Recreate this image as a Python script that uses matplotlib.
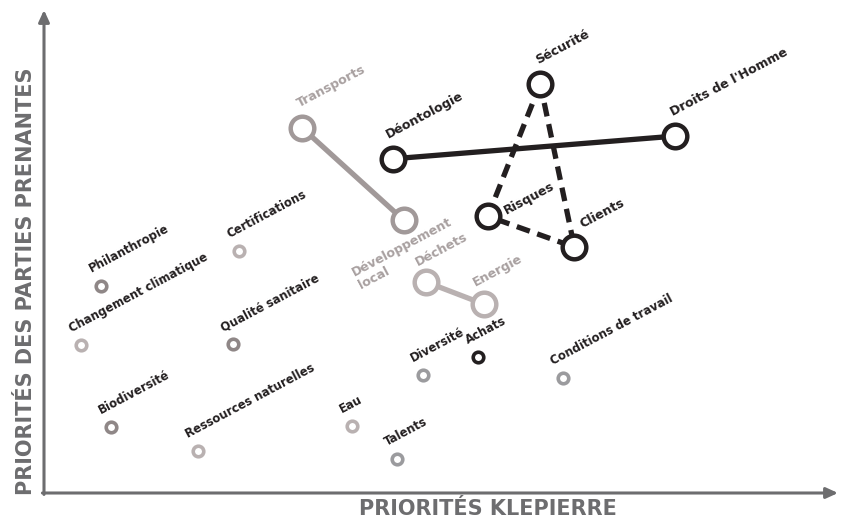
import matplotlib
matplotlib.use("Agg")
import matplotlib.pyplot as plt

# materiality matrix: x = Klepierre priority, y = stakeholder priority (0-100)
topics = ["Transports", "Développement\nlocal", "Déontologie", "Droits de l'Homme",
          "Sécurité", "Risques", "Clients", "Déchets", "Energie",
          "Philanthropie", "Changement climatique", "Certifications", "Qualité sanitaire",
          "Biodiversité", "Ressources naturelles", "Eau", "Talents", "Diversité",
          "Achats", "Conditions de travail"]
klepierre = [32.5, 45.3, 44.0, 79.5, 62.5, 55.9, 66.8, 48.1, 55.4,
             7.2, 4.7, 24.6, 23.8, 8.4, 19.4, 38.8, 44.5, 47.7, 54.7, 65.4]
stakeholders = [75.6, 56.5, 69.2, 73.9, 84.7, 57.3, 50.9, 43.7, 39.1,
                42.9, 30.6, 50.1, 30.8, 13.7, 8.7, 13.9, 7.0, 24.4, 28.2, 23.8]

# linked pairs / groups
solid_black = ["Déontologie", "Droits de l'Homme"]
dashed_black = ["Sécurité", "Risques", "Clients", "Sécurité"]
gray_a = ["Transports", "Développement\nlocal"]
gray_b = ["Déchets", "Energie"]

BLACK = "#231f20"
GRAY_BIG = "#a19999"
GRAY_LIGHT = "#b9b1b1"
GRAY_MID = "#8f8787"
GRAY_NEUTRAL = "#9b9b9e"
AXIS = "#6d6d6f"

color = {
    "Transports": GRAY_BIG, "Développement\nlocal": GRAY_BIG,
    "Déchets": GRAY_LIGHT, "Energie": GRAY_LIGHT,
    "Déontologie": BLACK, "Droits de l'Homme": BLACK, "Sécurité": BLACK,
    "Risques": BLACK, "Clients": BLACK, "Achats": BLACK,
    "Philanthropie": GRAY_MID, "Qualité sanitaire": GRAY_MID, "Biodiversité": GRAY_MID,
    "Changement climatique": GRAY_LIGHT, "Certifications": GRAY_LIGHT,
    "Ressources naturelles": GRAY_LIGHT, "Eau": GRAY_LIGHT,
    "Talents": GRAY_NEUTRAL, "Diversité": GRAY_NEUTRAL, "Conditions de travail": GRAY_NEUTRAL,
}
big = set(solid_black + dashed_black + gray_a + gray_b)
gray_text = set(gray_a + gray_b)

# label offsets in pixels (dx, dy) from the marker centre
offset = {
    "Transports": (-3, 21), "Déontologie": (-5, 20), "Droits de l'Homme": (-2, 20),
    "Sécurité": (-2, 20), "Risques": (19, 2), "Clients": (8, 19),
    "Déchets": (-8, 16), "Energie": (-8, 18), "Développement\nlocal": (-43, -68),
}

pos = {t: (x, y) for t, x, y in zip(topics, klepierre, stakeholders)}

fig = plt.figure(figsize=(8.42, 5.30), dpi=100)
ax = fig.add_axes([44 / 842, 37 / 530, 794 / 842, 483 / 530])
ax.set_xlim(0, 100)
ax.set_ylim(0, 100)
ax.axis("off")

# axes arrows
arrow = dict(arrowstyle="-|>,head_length=0.7,head_width=0.32", color=AXIS, lw=2.2,
             shrinkA=0, shrinkB=0)
ax.annotate("", xy=(1.0, 0), xytext=(-0.002, 0), xycoords="axes fraction",
            arrowprops=arrow, annotation_clip=False)
ax.annotate("", xy=(0, 1.0), xytext=(0, -0.003), xycoords="axes fraction",
            arrowprops=arrow, annotation_clip=False)
fig.text(488 / 842, 1 - 515 / 530, "PRIORITÉS KLEPIERRE", ha="center", va="baseline",
         fontsize=15, fontweight="bold", color=AXIS)
fig.text(32 / 842, 1 - 281 / 530, "PRIORITÉS DES PARTIES PRENANTES", ha="center",
         va="baseline", rotation=90, rotation_mode="anchor",
         fontsize=15, fontweight="bold", color=AXIS)


def link(names, c, ls="-"):
    xs = [pos[n][0] for n in names]
    ys = [pos[n][1] for n in names]
    ax.plot(xs, ys, color=c, lw=3.8, ls=ls, solid_capstyle="butt",
            dash_capstyle="butt", zorder=2)


link(solid_black, BLACK)
link(dashed_black, BLACK, ls=(0, (2.6, 1.5)))
link(gray_a, GRAY_BIG)
link(gray_b, GRAY_LIGHT)

for t in topics:
    x, y = pos[t]
    if t in big:
        ax.plot(x, y, "o", ms=17, mfc="white", mec=color[t], mew=3.2, zorder=3)
    else:
        ax.plot(x, y, "o", ms=7.6, mfc="white", mec=color[t], mew=2.6, zorder=3)
    dx, dy = offset.get(t, (-10, 13))
    ax.annotate(t, (x, y), xytext=(dx * 0.72, dy * 0.72), textcoords="offset points",
                rotation=28, rotation_mode="anchor", ha="left", va="baseline",
                fontsize=9.1 if t in big else 8.4, fontweight="bold",
                color="#a8a0a0" if t in gray_text else BLACK,
                linespacing=1.05, zorder=4)

fig.savefig("out.png", dpi=100, facecolor="white")
